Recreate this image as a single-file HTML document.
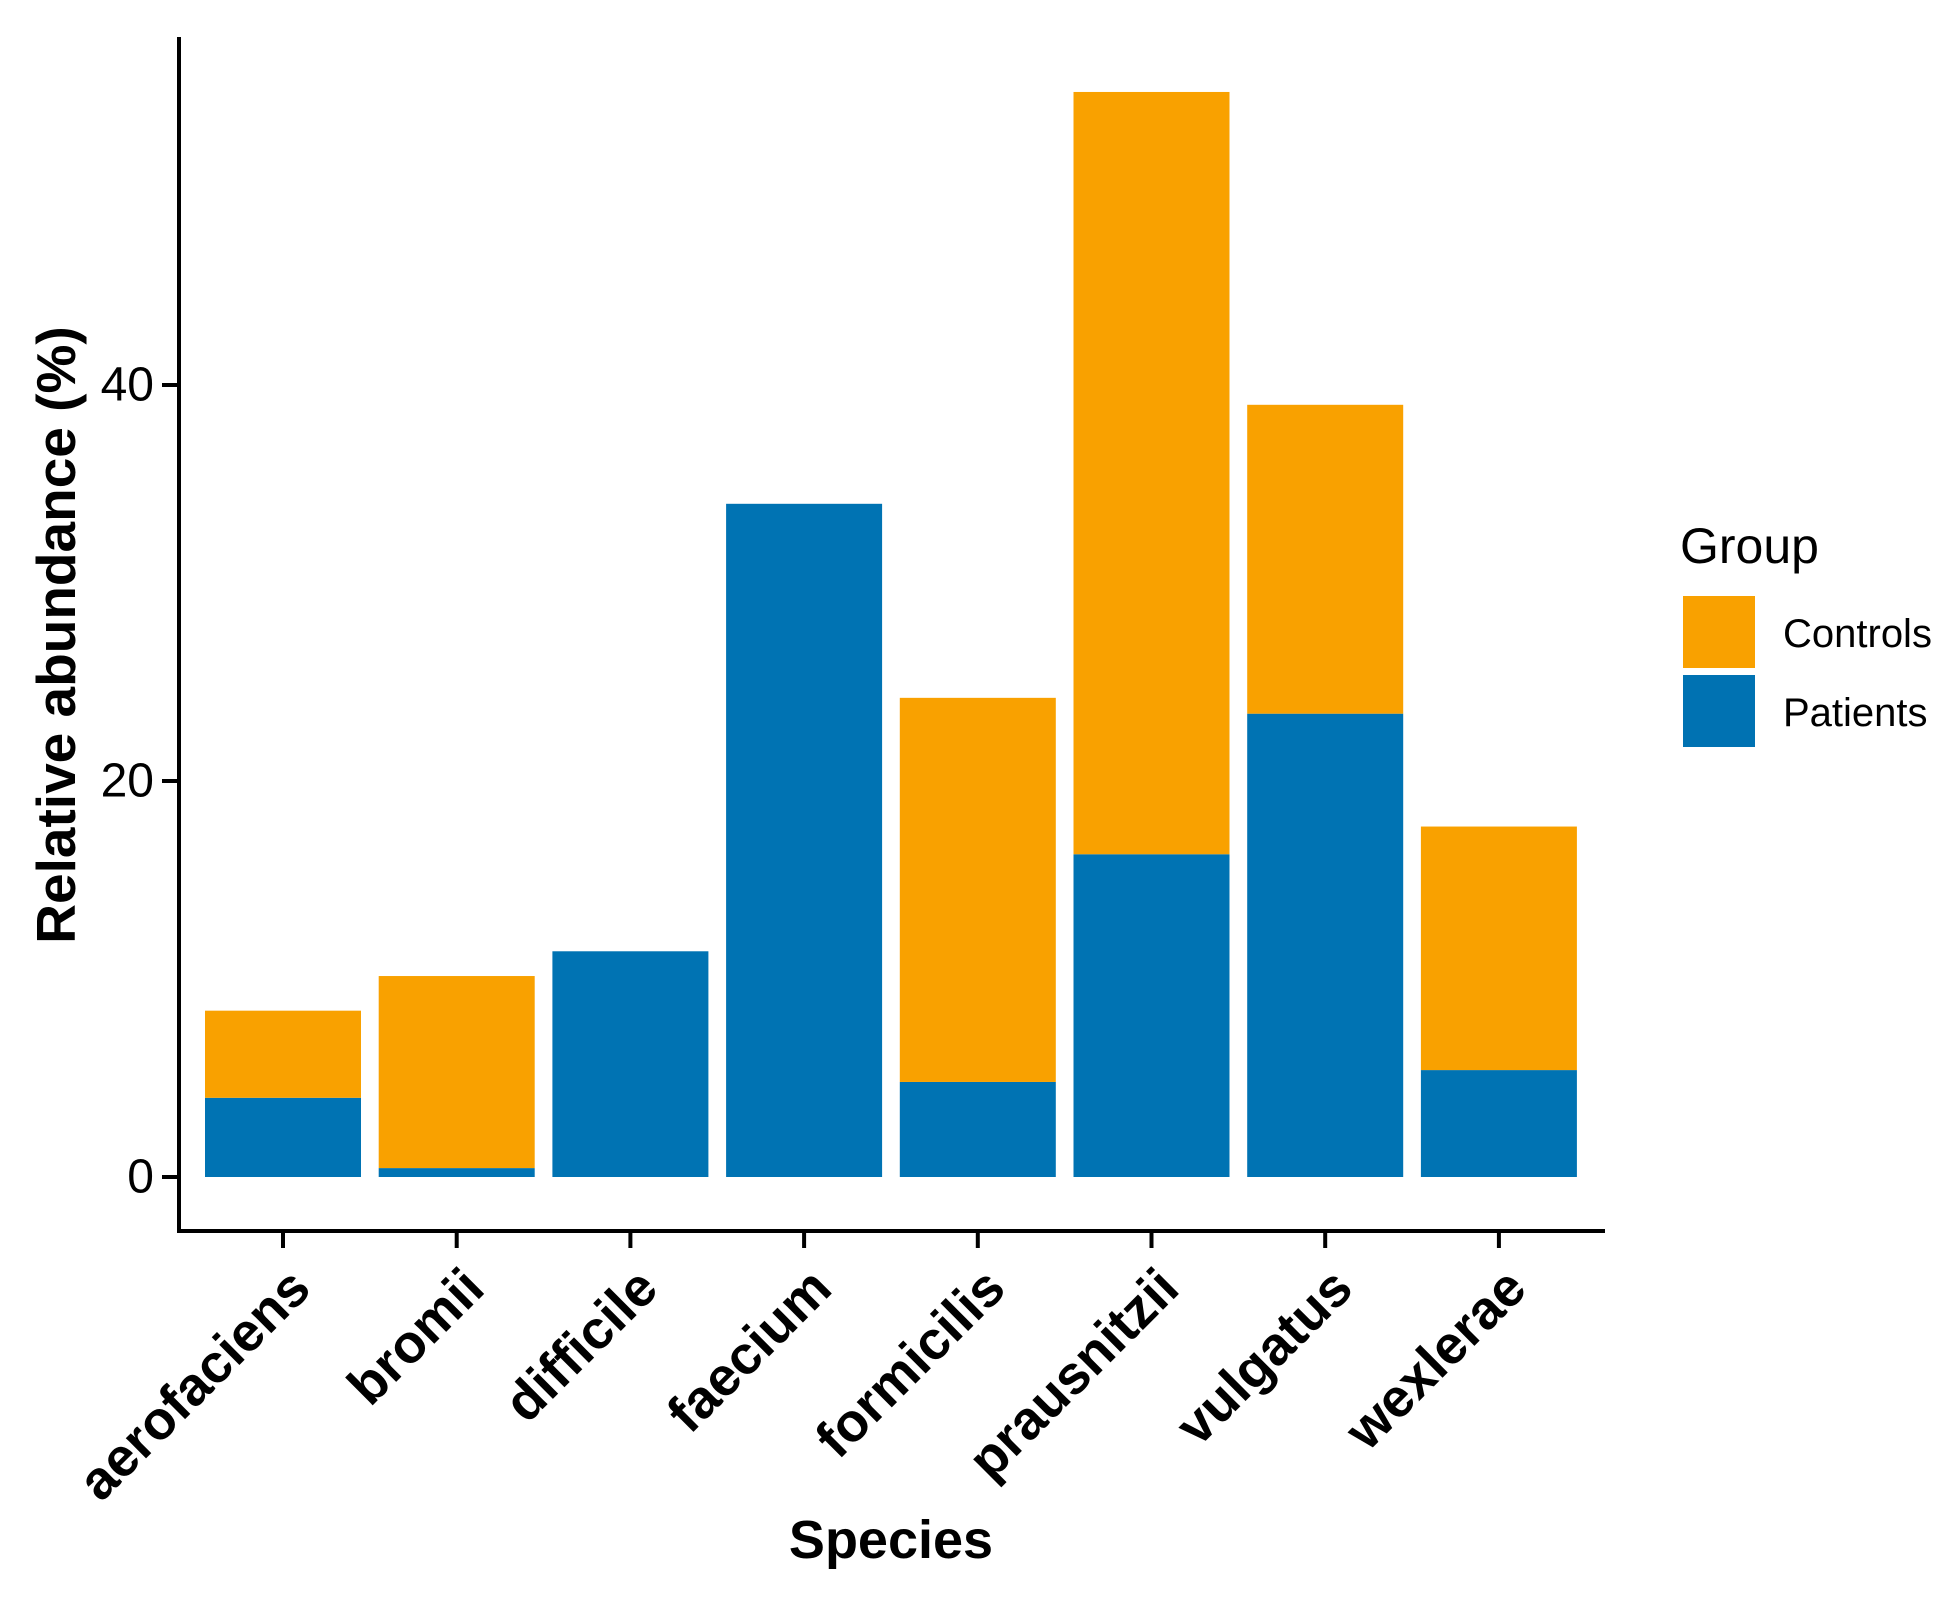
<!DOCTYPE html>
<html><head><meta charset="utf-8"><style>body{margin:0;background:#fff}svg{display:block;font-family:"Liberation Sans",Arial,sans-serif}</style></head>
<body>
<svg id="chart" width="1959" height="1610" viewBox="0 0 1959 1610">
<g id="bars"></g>
<g id="axes"></g>
<text x="56" y="635" transform="rotate(-90 56 635)" text-anchor="middle" dominant-baseline="central" font-size="55" font-weight="bold">Relative abundance (%)</text>
<text x="891" y="1558" text-anchor="middle" font-size="54" font-weight="bold">Species</text>
<g>
<text x="1680" y="563" font-size="50">Group</text>
<rect x="1683" y="596" width="72" height="72" fill="#F9A100"/>
<text x="1783" y="647" font-size="40">Controls</text>
<rect x="1683" y="675" width="72" height="72" fill="#0072B2"/>
<text x="1783" y="726" font-size="40">Patients</text>
</g>
</svg>
<script>
const categories = ["aerofaciens","bromii","difficile","faecium","formicilis","prausnitzii","vulgatus","wexlerae"];
const patients = [4.0, 0.45, 11.4, 34.0, 4.8, 16.3, 23.4, 5.4];
const controls = [4.4, 9.7, 0, 0, 19.4, 38.5, 15.6, 12.3];
const yTicks = [0, 20, 40];
const NS = "http://www.w3.org/2000/svg";
const y0 = 1177, pxPerUnit = 19.8;
function yScale(v){ return y0 - v * pxPerUnit; }
function xCenter(i){ return 283 + i * 173.7; }
const barW = 156;
const bars = document.getElementById('bars');
const axes = document.getElementById('axes');
function mk(tag, attrs, parent){ const e = document.createElementNS(NS, tag); for (const k in attrs) e.setAttribute(k, attrs[k]); parent.appendChild(e); return e; }
categories.forEach((c, i) => {
  const cx = xCenter(i);
  const p = patients[i], ctl = controls[i];
  const r1 = mk('rect', {x: cx - barW/2, y: yScale(p), width: barW, height: yScale(0) - yScale(p), fill: '#0073B3'}, bars);
  
  
  const r2 = mk('rect', {x: cx - barW/2, y: yScale(p + ctl), width: barW, height: yScale(p) - yScale(p + ctl), fill: '#F9A100'}, bars);
  
  
  const t = mk('line', {x1: cx, x2: cx, y1: 1231, y2: 1248, stroke: '#000', 'stroke-width': 4}, axes);
  
  
  const lx = cx + 3, ly = 1264;
  const lab = mk('text', {x: lx, y: ly, 'text-anchor': 'end', 'dominant-baseline': 'hanging', 'font-size': 54, 'font-weight': 'bold', transform: 'rotate(-45 ' + lx + ' ' + ly + ')'}, axes);
  lab.textContent = c;
  
  
});
yTicks.forEach(v => {
  const y = yScale(v);
  const t = mk('line', {x1: 162, x2: 179, y1: y, y2: y, stroke: '#000', 'stroke-width': 4}, axes);
  
  
  const lab = mk('text', {x: 154, y: y, 'text-anchor': 'end', 'dominant-baseline': 'central', 'font-size': 48}, axes);
  lab.textContent = v;
  
  
});
const ya = mk('line', {x1: 179, x2: 179, y1: 37, y2: 1233, stroke: '#000', 'stroke-width': 4}, axes);


const xa = mk('line', {x1: 177, x2: 1605, y1: 1231, y2: 1231, stroke: '#000', 'stroke-width': 4}, axes);


</script>
</body></html>
